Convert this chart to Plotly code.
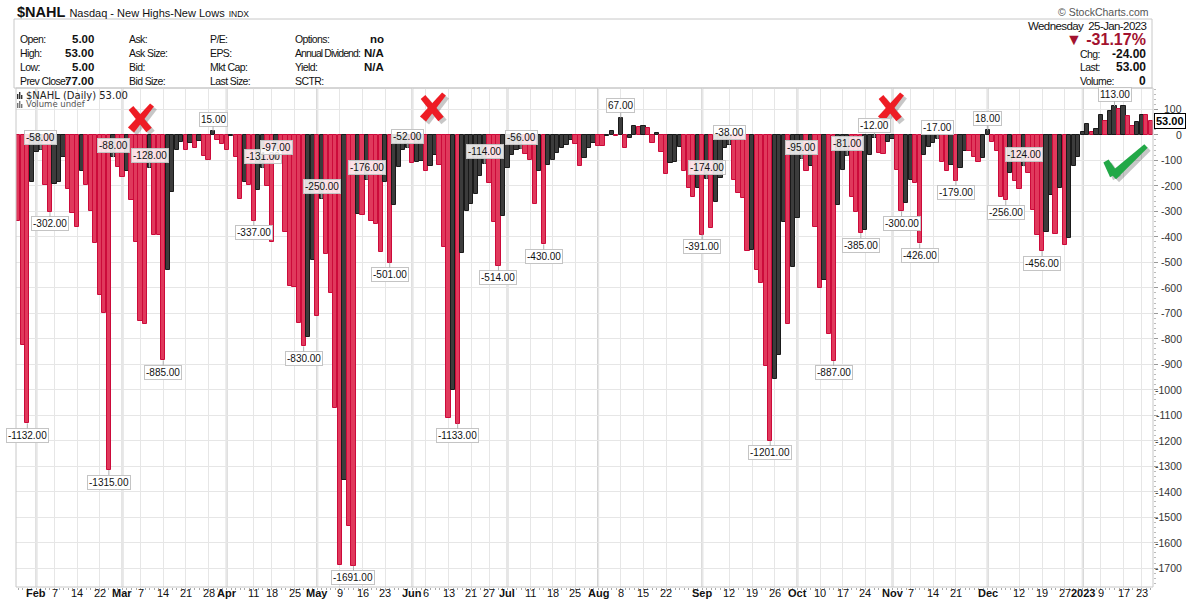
import plotly.graph_objects as go
import pandas as pd

# ---------------- data ----------------
holidays = ["2022-02-21", "2022-04-15", "2022-05-30", "2022-06-20", "2022-07-04",
            "2022-09-05", "2022-11-24", "2022-12-26", "2023-01-02", "2023-01-16"]
dates = [d for d in pd.bdate_range("2022-01-26", "2023-01-25")
         if d.strftime("%Y-%m-%d") not in holidays]

nahl = [
    -339, -824, -1132, -185, -68, -58, -195, -302, -192, -185,
    -87, -211, -306, -361, -140, -198, -300, -426, -628, -698,
    -1315, -88, -126, -165, -140, -257, -420, -729, -742, -128,
    -394, -394, -885, -531, -224, -61, -29, -61, -31, -51,
    -22, -81, -100, 15, -20, -35, -58, -3, -85, -251,
    -186, -196, -337, -218, -131, -199, -421, -97, -100, -382,
    -593, -598, -737, -830, -792, -489, -711, -250, -467, -621,
    -1072, -1688, -1355, -1535, -1691, -310, -314, -176, -336, -350,
    -461, -186, -501, -275, -127, -61, -52, -111, -105, -102,
    -140, -124, -78, -120, -440, -1110, -1000, -1133, -465, -300,
    -270, -230, -160, -114, -190, -340, -514, -320, -130, -80,
    -60, -56, -75, -100, -270, -140, -430, -120, -100, -70,
    -50, -40, -20, -35, -124, -92, -52, -33, -43, -43,
    -4, 16, -3, 67, -52, -13, 35, 30, 35, 26,
    -30, 7, -69, -153, -111, -105, -46, -140, -209, -242,
    -209, -391, -174, -364, -262, -170, -52, -38, -177, -229,
    -246, -454, -451, -530, -583, -907, -1201, -959, -864, -340,
    -743, -517, -327, -95, -141, -122, -360, -602, -570, -782,
    -887, -275, -137, -81, -242, -301, -385, -373, -79, -12,
    -70, -75, -26, -17, -137, -300, -266, -177, -187, -426,
    -79, -46, -33, -17, -105, -140, -118, -179, -131, -62,
    -62, -88, -105, -92, 18, -26, -65, -245, -256, -148,
    -181, -213, -124, -148, -295, -393, -456, -380, -236, -390,
    -209, -432, -406, -124, -85, 10, 42, 13, 22, 78,
    56, 92, 113, 100, 113, 75, 33, 52, 78, 77,
    53,
]
assert len(nahl) == len(dates), (len(nahl), len(dates))

tick_dates = ["2022-02-01", "2022-02-07", "2022-02-14", "2022-02-22", "2022-03-01", "2022-03-07",
              "2022-03-14", "2022-03-21", "2022-03-28", "2022-04-01", "2022-04-11", "2022-04-18",
              "2022-04-25", "2022-05-02", "2022-05-09", "2022-05-16", "2022-05-23", "2022-06-01",
              "2022-06-06", "2022-06-13", "2022-06-21", "2022-06-27", "2022-07-01", "2022-07-11",
              "2022-07-18", "2022-07-25", "2022-08-01", "2022-08-08", "2022-08-15", "2022-08-22",
              "2022-09-01", "2022-09-12", "2022-09-19", "2022-09-26", "2022-10-03", "2022-10-10",
              "2022-10-17", "2022-10-24", "2022-11-01", "2022-11-07", "2022-11-14", "2022-11-21",
              "2022-12-01", "2022-12-12", "2022-12-19", "2022-12-27", "2023-01-03", "2023-01-09",
              "2023-01-17", "2023-01-23"]
tick_text = ["Feb", "7", "14", "22", "Mar", "7", "14", "21", "28", "Apr", "11", "18", "25",
             "May", "9", "16", "23", "Jun", "6", "13", "21", "27", "Jul", "11", "18", "25",
             "Aug", "8", "15", "22", "Sep", "12", "19", "26", "Oct", "10", "17", "24",
             "Nov", "7", "14", "21", "Dec", "12", "19", "27", "2023", "9", "17", "23"]

y_ticks = list(range(100, -1701, -100))

low_marks = [2, 7, 20, 32, 52, 63, 74, 82, 97, 106, 116, 151, 166, 180, 186, 195, 199, 207, 218, 226]
high_marks = [5, 21, 29, 43, 54, 57, 67, 77, 86, 103, 111, 133, 152, 157, 173, 183, 189, 203, 214, 222, 242]

header_left = [
    [("Open:", "5.00"), ("High:", "53.00"), ("Low:", "5.00"), ("Prev Close:", "77.00")],
    [("Ask:", ""), ("Ask Size:", ""), ("Bid:", ""), ("Bid Size:", "")],
    [("P/E:", ""), ("EPS:", ""), ("Mkt Cap:", ""), ("Last Size:", "")],
    [("Options:", "no"), ("Annual Dividend:", "N/A"), ("Yield:", "N/A"), ("SCTR:", "")],
]
header_right = [("Chg:", "-24.00"), ("Last:", "53.00"), ("Volume:", "0")]

# ---------------- geometry ----------------
W, H = 1200, 599
PL, PR, PT, PB = 16, 1153, 88, 587
YMIN, YMAX = -1774, 184


def px(xp):
    return (xp - PL) / (PR - PL)


def py(yp):
    return (PB - yp) / (PB - PT)


date_idx = {d.strftime("%Y-%m-%d"): i for i, d in enumerate(dates)}
tick_vals = [date_idx[d] for d in tick_dates]
month_names = {"Feb", "Mar", "Apr", "May", "Jun", "Jul", "Aug", "Sep", "Oct", "Nov", "Dec", "2023"}

RED, RED_E = "#e0395c", "#cc0a3a"
BLK, BLK_E = "#3c3c3c", "#1a1a1a"
fill, edge = [], []
for i, v in enumerate(nahl):
    up = i > 0 and v > nahl[i - 1]
    fill.append(BLK if up else RED)
    edge.append(BLK_E if up else RED_E)

x_idx = list(range(len(nahl)))

fig = go.Figure()
fig.add_trace(go.Bar(x=x_idx, y=nahl, width=0.94,
                     marker=dict(color=fill, line=dict(color=edge, width=1)),
                     hoverinfo="skip", showlegend=False))

ann = []
shapes = []

# month separator lines (darker)
for t, v in zip(tick_text, tick_vals):
    if t in month_names:
        shapes.append(dict(type="line", xref="x", yref="paper", x0=v, x1=v, y0=0, y1=1,
                           line=dict(color="#cfcfcf", width=2), layer="below"))

# x tick labels
for t, v in zip(tick_text, tick_vals):
    ann.append(dict(x=v, y=py(592.5), xref="x", yref="paper", showarrow=False,
                    xanchor="center", yanchor="middle",
                    text=f"<b>{t}</b>" if t in month_names else t,
                    font=dict(family="Liberation Sans, Arial", size=11, color="#111")))

# value flags
LBL_FONT = dict(family="Liberation Sans, Arial", size=10, color="#111")
for i in low_marks:
    ann.append(dict(x=i, y=nahl[i], xref="x", yref="y", text=f"{nahl[i]:.2f}",
                    showarrow=True, arrowhead=0, arrowwidth=1, arrowcolor="#b0b0b0",
                    ax=0, ay=12, font=LBL_FONT, bgcolor="white", bordercolor="#c4c4c4",
                    borderwidth=1, borderpad=1))
for i in high_marks:
    ann.append(dict(x=i, y=nahl[i], xref="x", yref="y", text=f"{nahl[i]:.2f}",
                    showarrow=True, arrowhead=0, arrowwidth=1, arrowcolor="#b0b0b0",
                    ax=0, ay=-12, font=LBL_FONT, bgcolor="rgba(255,255,255,0.85)",
                    bordercolor="#c4c4c4", borderwidth=1, borderpad=1))

# right y tick labels
for v in y_ticks:
    ann.append(dict(x=px(1184), y=v, xref="paper", yref="y", text=str(v), showarrow=False,
                    xanchor="right", yanchor="middle",
                    font=dict(family="Liberation Sans, Arial", size=10.5, color="#333")))
# last value tag
ann.append(dict(x=px(1154), y=nahl[-1], xref="paper", yref="y", text=f"<b>{nahl[-1]:.2f}</b>",
                showarrow=False, xanchor="left", yanchor="middle", bgcolor="white",
                bordercolor="#000", borderwidth=1, borderpad=1,
                font=dict(family="Liberation Sans, Arial", size=11, color="#000")))

HF = "Liberation Sans, Arial"


def tight(s):
    sp = -0.9 if len(s) > 12 else -0.6
    return f"<span style='letter-spacing:{sp}px'>{s}</span>"


# title line
ann.append(dict(x=px(15), y=py(12), xref="paper", yref="paper", showarrow=False, xanchor="left",
                yanchor="middle",
                text="<b>$NAHL</b> <span style='font-size:11px'>Nasdaq - New Highs-New Lows</span> "
                     "<span style='font-size:8.5px'>INDX</span>",
                font=dict(family=HF, size=14.5, color="#111")))
ann.append(dict(x=px(1151), y=py(12), xref="paper", yref="paper", showarrow=False, xanchor="right",
                yanchor="middle", text="© StockCharts.com",
                font=dict(family=HF, size=10.5, color="#555")))

col_x = [18, 127, 208, 293]
val_x = [96, None, None, 386]
row_y = [39, 53, 67, 81]
for c, col in enumerate(header_left):
    for r, (lab, val) in enumerate(col):
        ann.append(dict(x=px(col_x[c]), y=py(row_y[r]), xref="paper", yref="paper", showarrow=False,
                        xanchor="left", yanchor="middle", text=tight(lab),
                        font=dict(family=HF, size=10.5, color="#111")))
        if val:
            ann.append(dict(x=px(val_x[c]), y=py(row_y[r]), xref="paper", yref="paper",
                            showarrow=False, xanchor="right", yanchor="middle", text=f"<b>{val}</b>",
                            font=dict(family=HF, size=11.5, color="#111")))

ann.append(dict(x=px(1148), y=py(26), xref="paper", yref="paper", showarrow=False, xanchor="right",
                yanchor="middle", text="<span style='letter-spacing:-0.6px'>Wednesday  25-Jan-2023</span>",
                font=dict(family=HF, size=11.5, color="#111")))
ann.append(dict(x=px(1148), y=py(40), xref="paper", yref="paper", showarrow=False, xanchor="right",
                yanchor="middle", text="<b>▼ -31.17%</b>",
                font=dict(family=HF, size=16, color="#a3122e")))
for r, (lab, val) in enumerate(header_right):
    yy = [54, 67, 81][r]
    ann.append(dict(x=px(1078), y=py(yy), xref="paper", yref="paper", showarrow=False,
                    xanchor="left", yanchor="middle", text=tight(lab),
                    font=dict(family=HF, size=10.5, color="#111")))
    ann.append(dict(x=px(1148), y=py(yy), xref="paper", yref="paper", showarrow=False,
                    xanchor="right", yanchor="middle", text=f"<b>{val}</b>",
                    font=dict(family=HF, size=12, color="#111")))

# in-chart legend
ann.append(dict(x=px(24), y=py(95), xref="paper", yref="paper", showarrow=False, xanchor="left",
                yanchor="middle", text="$NAHL (Daily) 53.00",
                font=dict(family="DejaVu Sans", size=10, color="#222")))
ann.append(dict(x=px(24), y=py(104.5), xref="paper", yref="paper", showarrow=False, xanchor="left",
                yanchor="middle", text="Volume undef",
                font=dict(family="DejaVu Sans", size=8.5, color="#555")))
for k, (x0, h) in enumerate([(17, 5), (19, 7), (21, 4)]):
    shapes.append(dict(type="rect", xref="paper", yref="paper", x0=px(x0), x1=px(x0 + 1.4),
                       y0=py(99), y1=py(99 - h), line=dict(width=0), fillcolor="#333"))
    shapes.append(dict(type="rect", xref="paper", yref="paper", x0=px(x0), x1=px(x0 + 1.4),
                       y0=py(108), y1=py(108 - h), line=dict(width=0), fillcolor="#777"))


# hand-drawn style marks (red crosses, green check) as filled stroke polygons
def stroke(p, q, w0, w1):
    (x0, y0), (x1, y1) = p, q
    dx, dy = x1 - x0, y1 - y0
    n = (dx * dx + dy * dy) ** 0.5
    nx, ny = -dy / n, dx / n
    pts = [(x0 + nx * w0 / 2, y0 + ny * w0 / 2), (x1 + nx * w1 / 2, y1 + ny * w1 / 2),
           (x1 - nx * w1 / 2, y1 - ny * w1 / 2), (x0 - nx * w0 / 2, y0 - ny * w0 / 2)]
    return "M " + " L ".join(f"{px(a):.5f},{py(b):.5f}" for a, b in pts) + " Z"


def mark(strokes, color, off=3):
    for (p, q, w0, w1) in strokes:
        shapes.append(dict(type="path", xref="paper", yref="paper",
                           path=stroke((p[0] + off, p[1] + off), (q[0] + off, q[1] + off), w0, w1),
                           fillcolor="rgba(0,0,0,0.22)", line=dict(width=0)))
    for (p, q, w0, w1) in strokes:
        shapes.append(dict(type="path", xref="paper", yref="paper", path=stroke(p, q, w0, w1),
                           fillcolor=color, line=dict(width=0)))


for (cx, cy) in [(140, 118), (432, 107), (890, 107)]:
    mark([((cx - 9, cy - 10), (cx + 9, cy + 12), 6, 7),
          ((cx - 9, cy + 12), (cx + 12, cy - 13), 8, 5)], "#ee1c24")
mark([((1106, 161), (1114, 175), 6, 9),
      ((1113, 176), (1146, 146), 9, 5)], "#22a847")

# header box and panel frame
shapes.append(dict(type="rect", xref="paper", yref="paper", x0=px(14), x1=px(1152),
                   y0=py(88), y1=py(19), line=dict(color="#c8c8c8", width=1), layer="below"))
shapes.append(dict(type="rect", xref="paper", yref="paper", x0=0, x1=1, y0=0, y1=1,
                   line=dict(color="#c8c8c8", width=1), layer="above"))

fig.update_layout(
    width=W, height=H,
    margin=dict(l=PL, r=W - PR, t=PT, b=H - PB, autoexpand=False),
    paper_bgcolor="white", plot_bgcolor="white",
    bargap=0, showlegend=False,
    annotations=ann, shapes=shapes,
    xaxis=dict(range=[-0.5, len(nahl) - 0.5], tickmode="array", tickvals=tick_vals,
               showticklabels=False, showgrid=True, gridcolor="#e6e6e6", gridwidth=1,
               ticks="", zeroline=False, showline=False,
               minor=dict(tick0=0, dtick=1, ticks="outside", ticklen=2, tickcolor="#aaa",
                          showgrid=False),
               fixedrange=True),
    yaxis=dict(range=[YMIN, YMAX], side="right", tickmode="array", tickvals=y_ticks,
               showticklabels=False, showgrid=True, gridcolor="#e6e6e6", gridwidth=1,
               zeroline=False, ticks="outside", ticklen=4, tickcolor="#999",
               minor=dict(dtick=20, ticks="outside", ticklen=2, tickcolor="#bbb", showgrid=False),
               fixedrange=True),
)

fig.write_html("out.html")
